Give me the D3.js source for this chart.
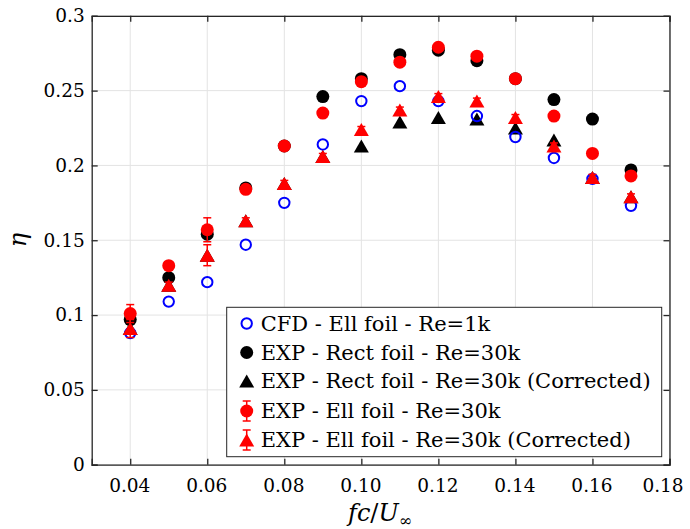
<!DOCTYPE html>
<html>
<head>
<meta charset="utf-8">
<script src="https://cdn.jsdelivr.net/npm/d3@7"></script>
<style>
  body { margin: 0; background: #fff; }
</style>
</head>
<body>
<div id="chart"></div>
<script>
// reduced frequency values
var freq = [0.04, 0.05, 0.06, 0.07, 0.08, 0.09, 0.10, 0.11, 0.12, 0.13, 0.14, 0.15, 0.16, 0.17];

// efficiency per series
var cfdEll   = [0.088, 0.109, 0.122, 0.147, 0.175, 0.214, 0.243, 0.253, 0.243, 0.233, 0.219, 0.205, 0.191, 0.173];
var expRect  = [0.097, 0.125, 0.154, 0.185, 0.213, 0.246, 0.258, 0.274, 0.277, 0.270, 0.258, 0.244, 0.231, 0.197];
var expRectC = [0.091, 0.120, 0.140, 0.163, 0.188, 0.206, 0.213, 0.229, 0.232, 0.231, 0.225, 0.217, 0.192, 0.179];
var expEll   = [0.101, 0.133, 0.157, 0.184, 0.213, 0.235, 0.256, 0.269, 0.279, 0.273, 0.258, 0.233, 0.208, 0.193];
var expEllC  = [0.091, 0.120, 0.140, 0.163, 0.188, 0.206, 0.224, 0.237, 0.246, 0.243, 0.232, 0.213, 0.192, 0.179];
var errEll   = [0.006, 0.002, 0.008, 0.002, 0.002, 0.002, 0.002, 0.002, 0.002, 0.002, 0.002, 0.002, 0.002, 0.002];
var errEllC  = [0.006, 0.002, 0.007, 0.002, 0.002, 0.002, 0.002, 0.002, 0.002, 0.002, 0.002, 0.002, 0.002, 0.002];

var xTicks = [0.04, 0.06, 0.08, 0.10, 0.12, 0.14, 0.16, 0.18];
var yTicks = [0, 0.05, 0.1, 0.15, 0.2, 0.25, 0.3];
var legendLabels = [
  "CFD - Ell foil - Re=1k",
  "EXP - Rect foil - Re=30k",
  "EXP - Rect foil - Re=30k (Corrected)",
  "EXP - Ell foil - Re=30k",
  "EXP - Ell foil - Re=30k (Corrected)"
];

var FONT = "'DejaVu Serif', 'Liberation Serif', serif";
var W = 690, H = 529;
var svg = d3.select("#chart").append("svg").attr("width", W).attr("height", H)
  .style("font-family", FONT);

var x = d3.scaleLinear().domain([0.03, 0.18]).range([91.7, 669.5]);
var y = d3.scaleLinear().domain([0, 0.3]).range([464.7, 15.8]);
var axisCol = "#262626";

// grid
svg.append("g").selectAll("line").data(xTicks).enter().append("line")
  .attr("x1", d => x(d)).attr("x2", d => x(d))
  .attr("y1", y(0)).attr("y2", y(0.3))
  .attr("stroke", "#e3e3e3").attr("stroke-width", 1);
svg.append("g").selectAll("line").data(yTicks).enter().append("line")
  .attr("x1", x(0.03)).attr("x2", x(0.18))
  .attr("y1", d => y(d)).attr("y2", d => y(d))
  .attr("stroke", "#e3e3e3").attr("stroke-width", 1);

// axes with inward ticks, mirrored on top / right
var fmtX = d3.format(".2f");
function fmtY(d) { return d === 0 ? "0" : String(+d.toFixed(2)); }

var gx = svg.append("g").attr("transform", "translate(0," + y(0) + ")")
  .call(d3.axisBottom(x).tickValues(xTicks).tickSize(-6).tickPadding(11).tickFormat(fmtX));
var gxt = svg.append("g").attr("transform", "translate(0," + y(0.3) + ")")
  .call(d3.axisTop(x).tickValues(xTicks).tickSize(-6).tickFormat(""));
var gy = svg.append("g").attr("transform", "translate(" + x(0.03) + ",0)")
  .call(d3.axisLeft(y).tickValues(yTicks).tickSize(-6).tickPadding(7).tickFormat(fmtY));
var gyr = svg.append("g").attr("transform", "translate(" + x(0.18) + ",0)")
  .call(d3.axisRight(y).tickValues(yTicks).tickSize(-6).tickFormat(""));

[gx, gxt, gy, gyr].forEach(function (g) {
  g.attr("font-family", FONT);
  g.select(".domain").attr("stroke", axisCol).attr("stroke-width", 1.3);
  g.selectAll(".tick line").attr("stroke", axisCol).attr("stroke-width", 1.3);
  g.selectAll("text").style("font-family", FONT).attr("font-size", 18.5).attr("fill", "#000");
});
gx.selectAll(".tick text").attr("dy", "0.9em").attr("dx", (d, i) => i === xTicks.length - 1 ? -7 : -1);

// axis labels
var xl = svg.append("text").attr("x", 380).attr("y", 521).attr("text-anchor", "middle")
  .attr("font-size", 24).style("font-family", FONT);
xl.append("tspan").attr("font-style", "italic").text("fc");
xl.append("tspan").text("/");
xl.append("tspan").attr("font-style", "italic").text("U");
xl.append("tspan").attr("font-size", 16).attr("dy", 5).text("∞");

svg.append("text").attr("transform", "translate(26,240) rotate(-90)").style("font-family", FONT)
  .attr("text-anchor", "middle").attr("font-size", 24).attr("font-style", "italic").text("η");

// marker helpers
function tri(w, h) { return "M0," + (-h / 2) + "L" + (w / 2) + "," + (h / 2) + "L" + (-w / 2) + "," + (h / 2) + "Z"; }
var triPath = tri(15, 13);

function zip(vals) { return freq.map((f, i) => ({ f: f, v: vals[i], i: i })); }

var marks = svg.append("g");

// black circles
marks.append("g").selectAll("circle").data(zip(expRect)).enter().append("circle")
  .attr("cx", d => x(d.f)).attr("cy", d => y(d.v)).attr("r", 6.5).attr("fill", "#000");
// black triangles
marks.append("g").selectAll("path").data(zip(expRectC)).enter().append("path")
  .attr("transform", d => "translate(" + x(d.f) + "," + y(d.v) + ")").attr("d", triPath).attr("fill", "#000");
// blue open circles
marks.append("g").selectAll("circle").data(zip(cfdEll)).enter().append("circle")
  .attr("cx", d => x(d.f)).attr("cy", d => y(d.v)).attr("r", 5.2)
  .attr("fill", "none").attr("stroke", "#0000ff").attr("stroke-width", 2);

function errBars(vals, errs) {
  var g = marks.append("g").attr("stroke", "#ff0000").attr("stroke-width", 1.5);
  var dd = zip(vals);
  g.selectAll("line.v").data(dd).enter().append("line")
    .attr("x1", d => x(d.f)).attr("x2", d => x(d.f))
    .attr("y1", d => y(d.v - errs[d.i])).attr("y2", d => y(d.v + errs[d.i]));
  g.selectAll("line.t").data(dd).enter().append("line")
    .attr("x1", d => x(d.f) - 4).attr("x2", d => x(d.f) + 4)
    .attr("y1", d => y(d.v + errs[d.i])).attr("y2", d => y(d.v + errs[d.i]));
  g.selectAll("line.b").data(dd).enter().append("line")
    .attr("x1", d => x(d.f) - 4).attr("x2", d => x(d.f) + 4)
    .attr("y1", d => y(d.v - errs[d.i])).attr("y2", d => y(d.v - errs[d.i]));
}

// red circles with error bars
errBars(expEll, errEll);
marks.append("g").selectAll("circle").data(zip(expEll)).enter().append("circle")
  .attr("cx", d => x(d.f)).attr("cy", d => y(d.v)).attr("r", 6.5).attr("fill", "#ff0000");
// red triangles with error bars
errBars(expEllC, errEllC);
marks.append("g").selectAll("path").data(zip(expEllC)).enter().append("path")
  .attr("transform", d => "translate(" + x(d.f) + "," + y(d.v) + ")").attr("d", triPath).attr("fill", "#ff0000");

// legend
var lg = svg.append("g");
lg.append("rect").attr("x", 226.7).attr("y", 307.3).attr("width", 435).attr("height", 149.4)
  .attr("fill", "#fff").attr("stroke", axisCol).attr("stroke-width", 1);
var rowY = [323.5, 352.5, 381, 411, 440];
var mx = 246.7;
rowY.forEach(function (ry, i) {
  var row = lg.append("g").attr("transform", "translate(" + mx + "," + ry + ")");
  if (i === 0) {
    row.append("circle").attr("r", 5.2).attr("fill", "none").attr("stroke", "#0000ff").attr("stroke-width", 2);
  } else if (i === 1) {
    row.append("circle").attr("r", 6.5).attr("fill", "#000");
  } else if (i === 2) {
    row.append("path").attr("d", triPath).attr("fill", "#000");
  } else {
    row.append("line").attr("y1", -10).attr("y2", 10).attr("stroke", "#ff0000").attr("stroke-width", 1.5);
    row.append("line").attr("x1", -4).attr("x2", 4).attr("y1", -10).attr("y2", -10).attr("stroke", "#ff0000").attr("stroke-width", 1.5);
    row.append("line").attr("x1", -4).attr("x2", 4).attr("y1", 10).attr("y2", 10).attr("stroke", "#ff0000").attr("stroke-width", 1.5);
    if (i === 3) row.append("circle").attr("r", 6.5).attr("fill", "#ff0000");
    else row.append("path").attr("d", triPath).attr("fill", "#ff0000");
  }
  lg.append("text").attr("x", 260.7).attr("y", ry).attr("dy", "0.35em").style("font-family", FONT)
    .attr("font-size", 21).text(legendLabels[i]);
});
</script>
</body>
</html>
